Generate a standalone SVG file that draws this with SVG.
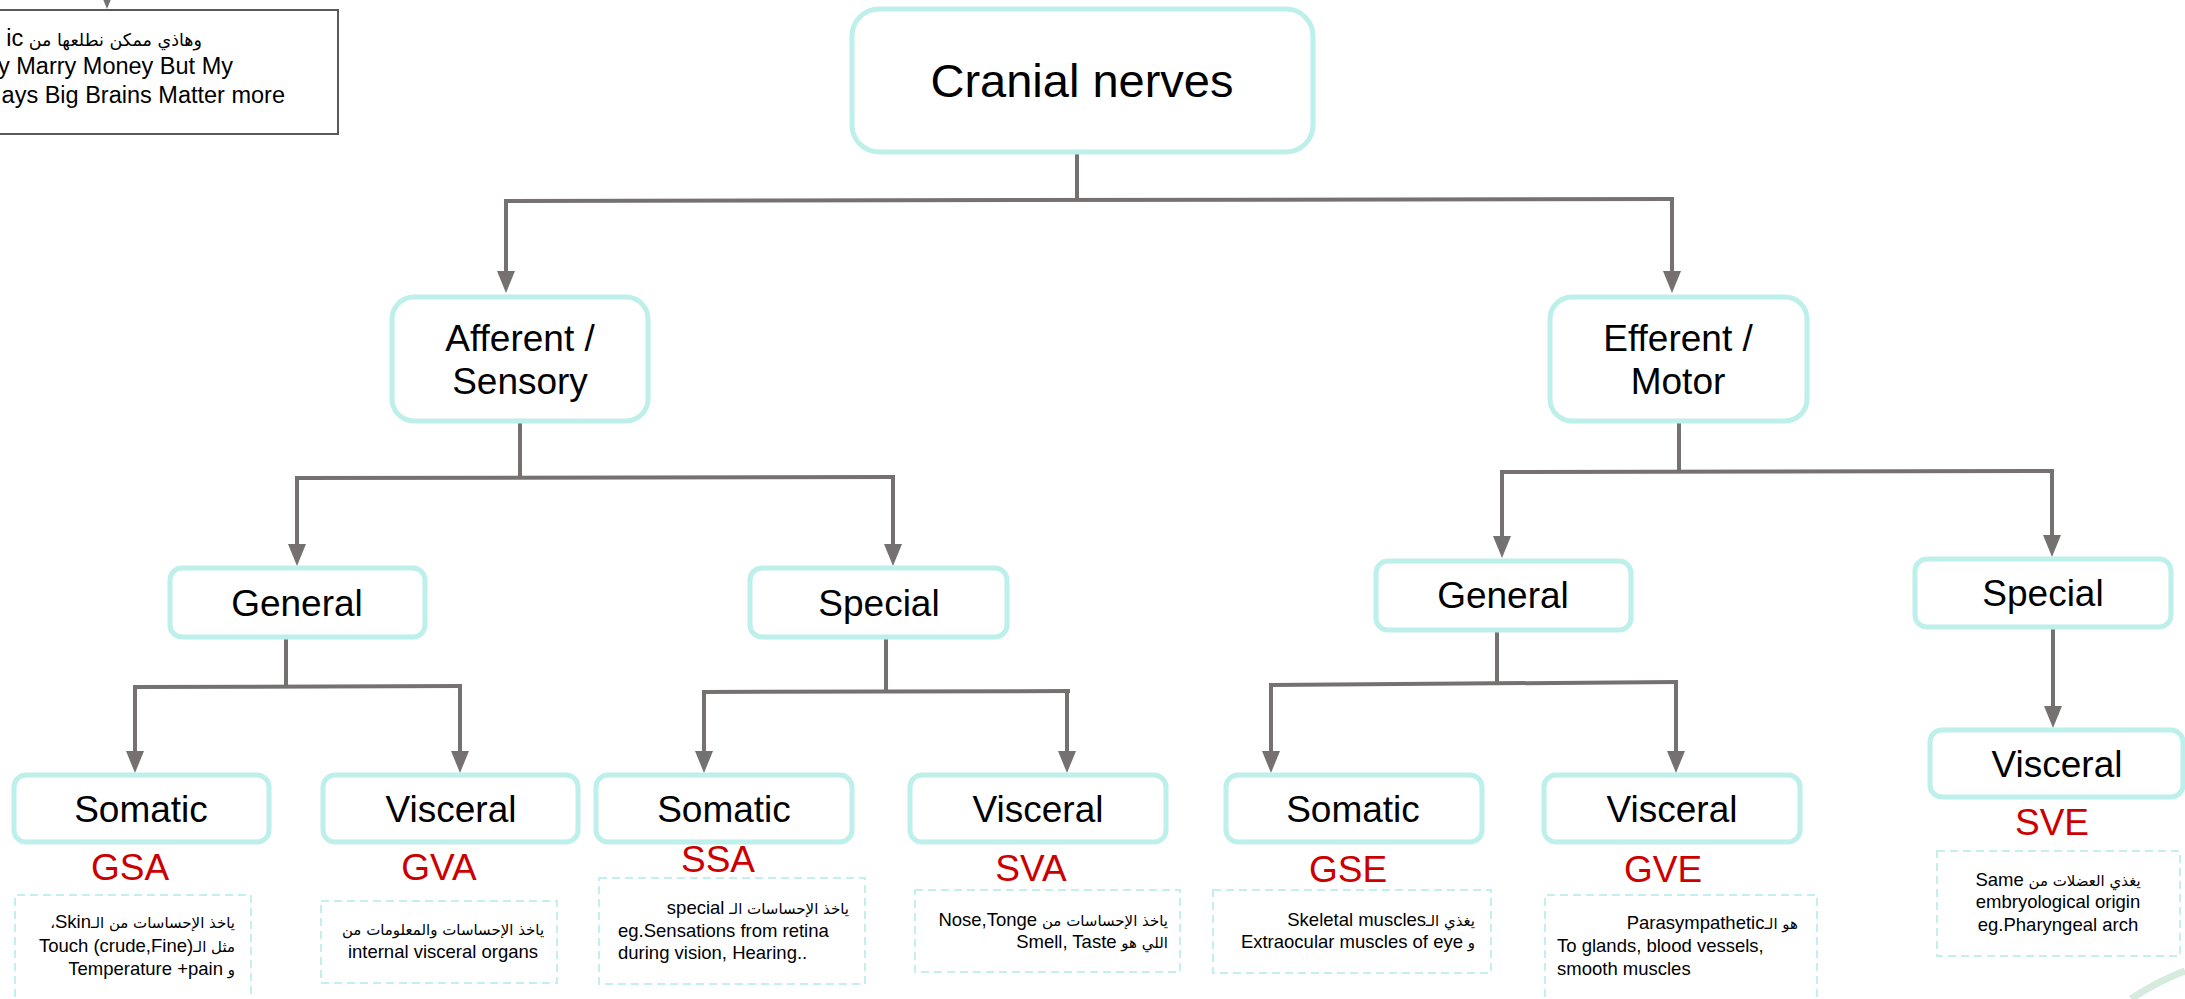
<svg xmlns="http://www.w3.org/2000/svg" width="2185" height="999" viewBox="0 0 2185 999">
<style>
.box{fill:#fff;stroke:#bdefeb;stroke-width:5}
.lbl{font-family:"Liberation Sans",Arial,sans-serif;font-size:37px;fill:#000;text-anchor:middle}
.big{font-size:47px}
.code{font-family:"Liberation Sans",Arial,sans-serif;font-size:37px;fill:#cc0000;text-anchor:middle}
.note{fill:none;stroke:#c3efec;stroke-width:2;stroke-dasharray:8 5}
.nt{font-family:"Liberation Sans","DejaVu Sans",sans-serif;font-size:18.5px;fill:#000}
.ar{font-family:"DejaVu Sans","Liberation Sans",sans-serif;font-size:15px}
.arm{font-family:"DejaVu Sans","Liberation Sans",sans-serif;font-size:17.5px}
.rtl{direction:rtl}
.r{text-anchor:start}
.m{text-anchor:middle}
.conn{stroke:#757171;stroke-width:4;fill:none}
.memo{font-family:"Liberation Sans","DejaVu Sans",sans-serif;font-size:23.5px;fill:#000}
</style>
<defs>
<marker id="ah" markerUnits="userSpaceOnUse" viewBox="0 0 22 18" markerWidth="22" markerHeight="18" refX="0" refY="9" orient="auto">
<path d="M0,0 L22,9 L0,18 Z" fill="#757171"/>
</marker>
</defs>
<rect width="2185" height="999" fill="#fff"/>
<path d="M2131,999 Q2158,981 2185,971" fill="none" stroke="#d4ebdd" stroke-width="7"/>

<g id="connectors">
<path class="conn" d="M107,-30 V-13" marker-end="url(#ah)"/>
<path class="conn" d="M1077,152 V200"/>
<path class="conn" d="M504,201 L1674,199"/>
<path class="conn" d="M506,201 V271" marker-end="url(#ah)"/>
<path class="conn" d="M1672,199 V271" marker-end="url(#ah)"/>
<path class="conn" d="M520,421 V478"/>
<path class="conn" d="M295,478 L895,477"/>
<path class="conn" d="M297,478 V544" marker-end="url(#ah)"/>
<path class="conn" d="M893,477 V544" marker-end="url(#ah)"/>
<path class="conn" d="M1679,421 V472"/>
<path class="conn" d="M1500,472 L2054,471"/>
<path class="conn" d="M1502,472 V536" marker-end="url(#ah)"/>
<path class="conn" d="M2052,471 V535" marker-end="url(#ah)"/>
<path class="conn" d="M286,637 V687"/>
<path class="conn" d="M133,687 L462,686"/>
<path class="conn" d="M135,687 V751" marker-end="url(#ah)"/>
<path class="conn" d="M460,686 V751" marker-end="url(#ah)"/>
<path class="conn" d="M886,637 V691"/>
<path class="conn" d="M702,692 L1070,691"/>
<path class="conn" d="M704,692 V751" marker-end="url(#ah)"/>
<path class="conn" d="M1067,691 V751" marker-end="url(#ah)"/>
<path class="conn" d="M1497,630 V684"/>
<path class="conn" d="M1269,685 L1678,682"/>
<path class="conn" d="M1271,685 V751" marker-end="url(#ah)"/>
<path class="conn" d="M1676,682 V751" marker-end="url(#ah)"/>
<path class="conn" d="M2053,628 V706" marker-end="url(#ah)"/>
</g>

<g id="memo">
<rect x="-3" y="10" width="341" height="124" fill="#fff" stroke="#595959" stroke-width="2"/>
<text class="memo rtl r" x="202" y="46"><tspan class="arm">وهاذي ممكن نطلعها من </tspan>ic</text>
<text class="memo" x="233" y="74" text-anchor="end">y Marry Money But My</text>
<text class="memo" x="285" y="103" text-anchor="end">ays Big Brains Matter more</text>
</g>

<g id="cranial">
<rect class="box" x="852" y="9" width="461" height="143" rx="27"/>
<text class="lbl big" x="1082" y="97">Cranial nerves</text>
</g>

<g id="afferent">
<rect class="box" x="392" y="297" width="256" height="124" rx="22"/>
<text class="lbl" x="520" y="351">Afferent /</text>
<text class="lbl" x="520" y="394">Sensory</text>
</g>

<g id="efferent">
<rect class="box" x="1550" y="297" width="257" height="124" rx="22"/>
<text class="lbl" x="1678" y="351">Efferent /</text>
<text class="lbl" x="1678" y="394">Motor</text>
</g>

<g id="general-a">
<rect class="box" x="170" y="568" width="255" height="69" rx="12"/>
<text class="lbl" x="297" y="616">General</text>
</g>

<g id="special-a">
<rect class="box" x="750" y="568" width="257" height="69" rx="12"/>
<text class="lbl" x="879" y="616">Special</text>
</g>

<g id="general-e">
<rect class="box" x="1376" y="561" width="255" height="69" rx="12"/>
<text class="lbl" x="1503" y="608">General</text>
</g>

<g id="special-e">
<rect class="box" x="1915" y="559" width="256" height="68" rx="12"/>
<text class="lbl" x="2043" y="606">Special</text>
</g>

<g id="gsa">
<rect class="box" x="14" y="775" width="255" height="67" rx="12"/>
<text class="lbl" x="141" y="822">Somatic</text>
<text class="code" x="130" y="880">GSA</text>
<path class="note" d="M15,1010 V895 H251 V1010"/>
<text class="nt rtl r" x="235" y="928"><tspan class="ar">ياخذ الإحساسات من الـ</tspan>Skin<tspan class="ar">،</tspan></text>
<text class="nt rtl r" x="235" y="952"><tspan class="ar">مثل الـ</tspan>(Touch (crude,Fine</text>
<text class="nt rtl r" x="235" y="975"><tspan class="ar">و </tspan>Temperature +pain</text>
</g>

<g id="gva">
<rect class="box" x="323" y="775" width="255" height="67" rx="12"/>
<text class="lbl" x="451" y="822">Visceral</text>
<text class="code" x="439" y="880">GVA</text>
<rect class="note" x="321" y="901" width="236" height="82"/>
<text class="nt rtl m" x="443" y="935"><tspan class="ar">ياخذ الإحساسات والمعلومات من</tspan></text>
<text class="nt m" x="443" y="958">internal visceral organs</text>
</g>

<g id="ssa">
<rect class="box" x="596" y="775" width="256" height="67" rx="12"/>
<text class="lbl" x="724" y="822">Somatic</text>
<text class="code" x="718" y="872">SSA</text>
<rect class="note" x="599" y="878" width="266" height="106"/>
<text class="nt rtl r" x="849" y="914"><tspan class="ar">ياخذ الإحساسات الـ </tspan>special</text>
<text class="nt" x="618" y="937">eg.Sensations from retina</text>
<text class="nt" x="618" y="959">during vision, Hearing..</text>
</g>

<g id="sva">
<rect class="box" x="910" y="775" width="256" height="67" rx="12"/>
<text class="lbl" x="1038" y="822">Visceral</text>
<text class="code" x="1031" y="881">SVA</text>
<rect class="note" x="915" y="890" width="265" height="82"/>
<text class="nt rtl r" x="1168" y="926"><tspan class="ar">ياخذ الإحساسات من </tspan>Nose,Tonge</text>
<text class="nt rtl r" x="1168" y="948"><tspan class="ar">اللي هو </tspan>Smell, Taste</text>
</g>

<g id="gse">
<rect class="box" x="1226" y="775" width="256" height="67" rx="12"/>
<text class="lbl" x="1353" y="822">Somatic</text>
<text class="code" x="1348" y="882">GSE</text>
<rect class="note" x="1213" y="890" width="278" height="83"/>
<text class="nt rtl r" x="1475" y="926"><tspan class="ar">يغذي الـ</tspan>Skeletal muscles</text>
<text class="nt rtl r" x="1475" y="948"><tspan class="ar">و </tspan>Extraocular muscles of eye</text>
</g>

<g id="gve">
<rect class="box" x="1544" y="775" width="256" height="67" rx="12"/>
<text class="lbl" x="1672" y="822">Visceral</text>
<text class="code" x="1663" y="882">GVE</text>
<path class="note" d="M1545,1010 V895 H1817 V1010"/>
<text class="nt rtl r" x="1798" y="929"><tspan class="ar">هو الـ</tspan>Parasympathetic</text>
<text class="nt" x="1557" y="952">To glands, blood vessels,</text>
<text class="nt" x="1557" y="975">smooth muscles</text>
</g>

<g id="sve">
<rect class="box" x="1930" y="730" width="253" height="67" rx="12"/>
<text class="lbl" x="2057" y="777">Visceral</text>
<text class="code" x="2052" y="835">SVE</text>
<rect class="note" x="1937" y="851" width="243" height="105"/>
<text class="nt rtl m" x="2058" y="886"><tspan class="ar">يغذي العضلات من </tspan>Same</text>
<text class="nt m" x="2058" y="908">embryological origin</text>
<text class="nt m" x="2058" y="931">eg.Pharyngeal arch</text>
</g>
</svg>
